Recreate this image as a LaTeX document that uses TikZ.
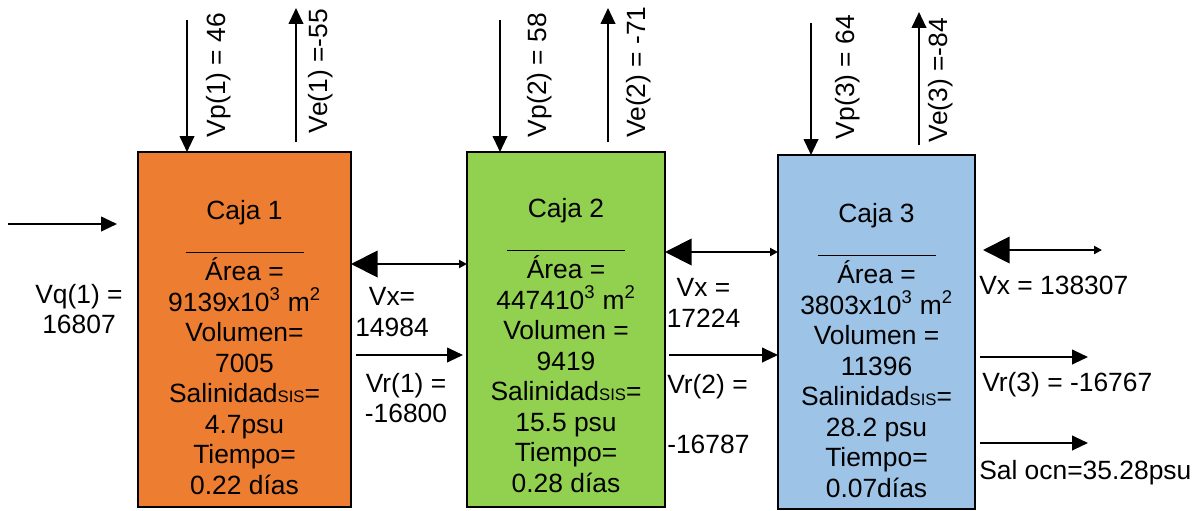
\documentclass[tikz,border=0pt]{standalone}
\usepackage{fontspec}
\setmainfont{Liberation Sans}
\usetikzlibrary{arrows.meta,positioning,calc}

\definecolor{naranjacaja}{RGB}{237,125,49}
\definecolor{verdecaja}{RGB}{146,208,80}
\definecolor{azulcaja}{RGB}{157,195,230}

\newcommand{\sis}{{\fontsize{12.5}{12.5}\selectfont SIS}}
\newcommand{\separa}{\rule[-2pt]{88.5pt}{0.8pt}}

\tikzset{
    caja/.style={draw=black, line width=1.5pt, inner sep=0pt, outer sep=0pt},
    texto/.style={font=\fontsize{19.8}{22.9}\selectfont, inner sep=0pt},
    flecha/.style={line width=1.5pt, -{Triangle[length=12pt,width=11pt]}},
    dobleflecha/.style={line width=1.5pt, {Triangle[length=20pt,width=20pt]}-{Triangle[length=6pt,width=6pt]}},
}

\begin{document}
\begin{tikzpicture}[x=0.75pt,y=-0.75pt]
    \useasboundingbox (0,0) rectangle (1201,510);

    % cajas
    \node[caja, fill=naranjacaja, minimum width=159.75pt, minimum height=266.25pt] (caja1) at (244.5,329.5) {};
    \node[caja, fill=verdecaja, minimum width=148.5pt, minimum height=266.25pt] (caja2) at (566,329.5) {};
    \node[caja, fill=azulcaja, minimum width=147.75pt, minimum height=265.5pt] (caja3) at (876.5,332) {};

    \node[texto, align=center, anchor=north] (txt1) at (244.5,200)
        {Caja 1\\ \separa\\ Área =\\ 9139x10\textsuperscript{3} m\textsuperscript{2}\\ Volumen=\\ 7005\\
         Salinidad\sis=\\ 4.7psu\\ Tiempo=\\ 0.22 días};
    \node[texto, align=center, anchor=north] (txt2) at (566,198)
        {Caja 2\\ \separa\\ Área =\\ 447410\textsuperscript{3} m\textsuperscript{2}\\ Volumen =\\ 9419\\
         Salinidad\sis=\\ 15.5 psu\\ Tiempo=\\ 0.28 días};
    \node[texto, align=center, anchor=north] (txt3) at (876.5,203)
        {Caja 3\\ \separa\\ Área =\\ 3803x10\textsuperscript{3} m\textsuperscript{2}\\ Volumen =\\ 11396\\
         Salinidad\sis=\\ 28.2 psu\\ Tiempo=\\ 0.07días};

    % precipitacion y evaporacion
    \coordinate (vp1) at (187,20);
    \coordinate (vp2) at (500,20);
    \coordinate (vp3) at (811,23);
    \draw[flecha] (vp1) -- (vp1 |- caja1.north);
    \draw[flecha] (vp2) -- (vp2 |- caja2.north);
    \draw[flecha] (vp3) -- (vp3 |- caja3.north);
    \node[texto, rotate=90] (lvp1) at (218.5,75) {Vp(1) = 46};
    \node[texto, rotate=90] (lvp2) at (540,75) {Vp(2) = 58};
    \node[texto, rotate=90] (lvp3) at (848,77) {Vp(3) = 64};

    \coordinate (ve1a) at (296,142);
    \coordinate (ve1b) at (296,8);
    \coordinate (ve2a) at (608,142);
    \coordinate (ve2b) at (608,8);
    \coordinate (ve3a) at (919,145);
    \coordinate (ve3b) at (919,12);
    \draw[flecha] (ve1a) -- (ve1b);
    \draw[flecha] (ve2a) -- (ve2b);
    \draw[flecha] (ve3a) -- (ve3b);
    \node[texto, rotate=90] (lve1) at (321,71) {Ve(1) =-55};
    \node[texto, rotate=90] (lve2) at (639,72) {Ve(2) = -71};
    \node[texto, rotate=90] (lve3) at (941,80) {Ve(3) =-84};

    % rio
    \coordinate (vqa) at (8,224);
    \coordinate (vqb) at (117,224);
    \draw[flecha] (vqa) -- (vqb);
    \node[texto, align=center] (lvq) at (79,309) {Vq(1) =\\ 16807};

    % intercambio
    \coordinate (nvx1) at (0,264);
    \coordinate (nvx2) at (0,252);
    \coordinate (vx3) at (1102,250);
    \draw[dobleflecha] (caja1.east |- nvx1) -- (caja2.west |- nvx1);
    \draw[dobleflecha] (caja2.east |- nvx2) -- (caja3.west |- nvx2);
    \draw[dobleflecha] ($(caja3.east |- vx3)+(8,0)$) -- (vx3);
    \node[texto, align=center] (lvx1) at (392,312) {Vx=\\ 14984};
    \node[texto, align=center] (lvx2) at (703.5,303) {Vx =\\ 17224};
    \node[texto, anchor=west] (lvx3) at (979,285) {Vx = 138307};

    % residual
    \coordinate (nvr) at (0,355);
    \coordinate (vr3) at (1088,357);
    \coordinate (socn) at (1088,443);
    \draw[flecha] ($(caja1.east |- nvr)+(5,0)$) -- ($(caja2.west |- nvr)+(-4,0)$);
    \draw[flecha] ($(caja2.east |- nvr)+(4,0)$) -- (caja3.west |- nvr);
    \draw[flecha] ($(caja3.east |- vr3)+(5,0)$) -- (vr3);
    \draw[flecha] ($(caja3.east |- socn)+(5,0)$) -- (socn);
    \node[texto, align=center] (lvr1) at (406,398) {Vr(1) =\\ -16800};
    \node[texto, align=left, anchor=north west] (lvr2) at (667,374) {Vr(2) =\\[22pt] -16787};
    \node[texto, anchor=west] (lvr3) at (982,385) {Vr(3) = -16767};
    \node[texto, anchor=west] (lsal) at (979,473) {Sal ocn=35.28psu};
\end{tikzpicture}
\end{document}
